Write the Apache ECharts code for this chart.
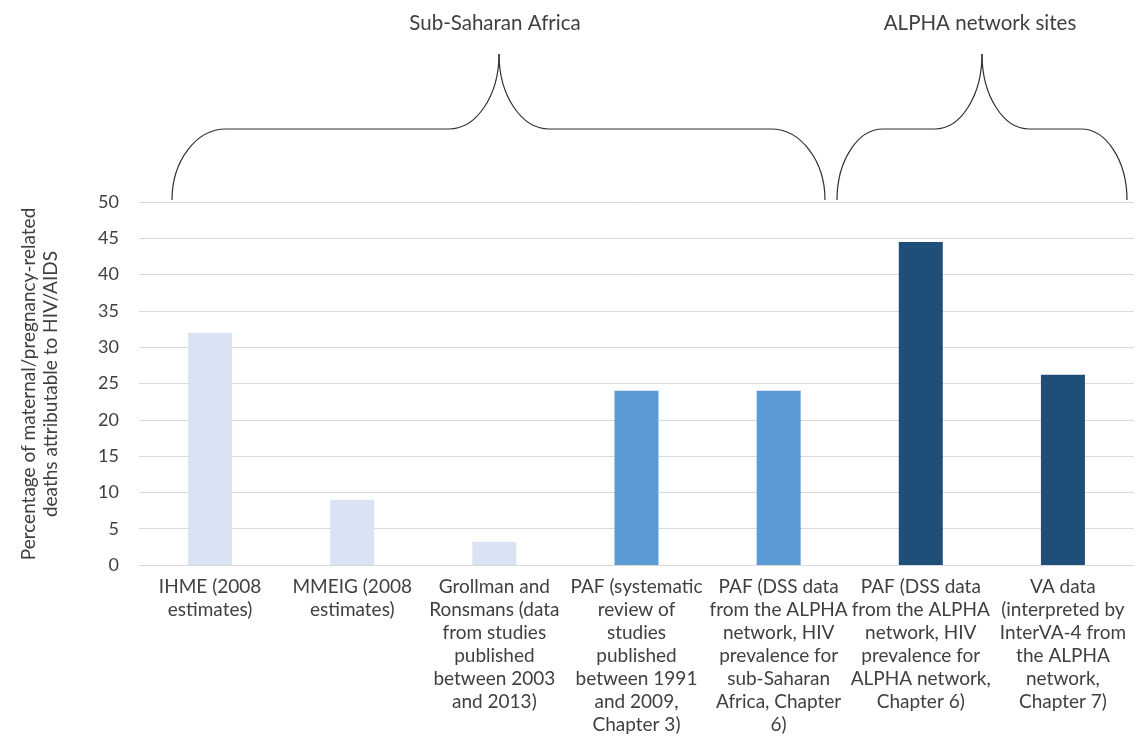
<!DOCTYPE html>
<html>
<head>
<meta charset="utf-8">
<script src="https://cdn.jsdelivr.net/npm/echarts@6/dist/echarts.min.js"></script>
<style>
    html, body { margin: 0; padding: 0; background: #fff; }
    #chart { width: 1141px; height: 755px; }
</style>
</head>
<body>
<div id="chart"></div>
<script>
    const categories = [
        'IHME (2008\nestimates)',
        'MMEIG (2008\nestimates)',
        'Grollman and\nRonsmans (data\nfrom studies\npublished\nbetween 2003\nand 2013)',
        'PAF (systematic\nreview of\nstudies\npublished\nbetween 1991\nand 2009,\nChapter 3)',
        'PAF (DSS data\nfrom the ALPHA\nnetwork, HIV\nprevalence for\nsub-Saharan\nAfrica, Chapter\n6)',
        'PAF (DSS data\nfrom the ALPHA\nnetwork, HIV\nprevalence for\nALPHA network,\nChapter 6)',
        'VA data\n(interpreted by\nInterVA-4 from\nthe ALPHA\nnetwork,\nChapter 7)'
    ];
    const values = [32, 9, 3.2, 24, 24, 44.5, 26.2];
    const barColors = ['#DAE3F3', '#DAE3F3', '#DAE3F3', '#5B9BD5', '#5B9BD5', '#1F4E79', '#1F4E79'];
    const yMin = 0, yMax = 50, yStep = 5;
    const yTitle = 'Percentage of maternal/pregnancy-related\ndeaths attributable to HIV/AIDS';
    const groupLabels = ['Sub-Saharan Africa', 'ALPHA network sites'];

    const FONT = 'Lato';
    const TEXT = '#404040';
    const braceStyle = { stroke: '#303030', lineWidth: 1.2, fill: null };

    // curly brace made of bezier pieces: ends at x0/x1, tip at xt
    function brace(x0, xt, x1, cw, mw) {
        const yTip = 54, yMid = 129, yEnd = 200, k = 0.552;
        const h1 = yEnd - yMid, h2 = yMid - yTip;
        const curve = (a, b, c, d) => ({
            type: 'bezierCurve',
            shape: { x1: a[0], y1: a[1], cpx1: b[0], cpy1: b[1], cpx2: c[0], cpy2: c[1], x2: d[0], y2: d[1] },
            style: braceStyle
        });
        const line = (a, b) => ({
            type: 'line',
            shape: { x1: a[0], y1: a[1], x2: b[0], y2: b[1] },
            style: braceStyle
        });
        return [
            curve([x0, yEnd], [x0, yEnd - k * h1], [x0 + cw - k * cw, yMid], [x0 + cw, yMid]),
            line([x0 + cw, yMid], [xt - mw, yMid]),
            curve([xt - mw, yMid], [xt - mw + k * mw, yMid], [xt, yTip + k * h2], [xt, yTip]),
            curve([xt, yTip], [xt, yTip + k * h2], [xt + mw - k * mw, yMid], [xt + mw, yMid]),
            line([xt + mw, yMid], [x1 - cw, yMid]),
            curve([x1 - cw, yMid], [x1 - cw + k * cw, yMid], [x1, yEnd - k * h1], [x1, yEnd])
        ];
    }

    const chart = echarts.init(document.getElementById('chart'));
    chart.setOption({
        animation: false,
        textStyle: { fontFamily: FONT },
        grid: { left: 139, right: 7, top: 202, bottom: 190 },
        xAxis: {
            type: 'category',
            data: categories,
            axisTick: { show: false },
            axisLine: { lineStyle: { color: '#D9D9D9' } },
            axisLabel: {
                interval: 0,
                margin: 10,
                color: TEXT,
                fontSize: 19,
                lineHeight: 23,
                fontFamily: FONT
            }
        },
        yAxis: {
            type: 'value',
            min: yMin,
            max: yMax,
            interval: yStep,
            axisLine: { show: false },
            axisTick: { show: false },
            splitLine: { lineStyle: { color: '#D9D9D9' } },
            axisLabel: { margin: 20, color: TEXT, fontSize: 18, fontFamily: FONT }
        },
        series: [{
            type: 'bar',
            barWidth: 44,
            data: values.map((v, i) => ({ value: v, itemStyle: { color: barColors[i] } }))
        }],
        graphic: [
            {
                type: 'text', x: 40, y: 384, rotation: Math.PI / 2,
                style: {
                    text: yTitle, fill: TEXT, font: '19px ' + FONT,
                    align: 'center', verticalAlign: 'middle', lineHeight: 22
                }
            },
            {
                type: 'text', x: 495, y: 23,
                style: { text: groupLabels[0], fill: TEXT, font: '20.5px ' + FONT, align: 'center', verticalAlign: 'middle' }
            },
            {
                type: 'text', x: 980, y: 23,
                style: { text: groupLabels[1], fill: TEXT, font: '20.5px ' + FONT, align: 'center', verticalAlign: 'middle' }
            }
        ].concat(brace(172, 499, 825, 54, 50), brace(837, 982, 1127, 46, 47))
    });
</script>
</body>
</html>
